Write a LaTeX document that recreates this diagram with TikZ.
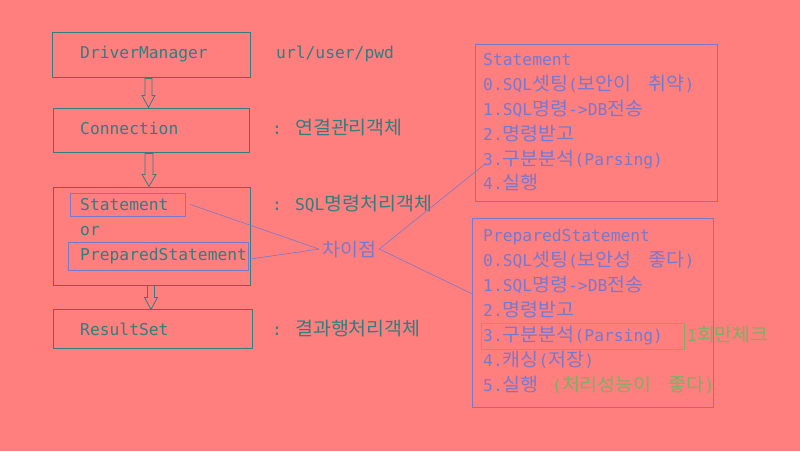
\documentclass[tikz,border=0pt]{standalone}
\usepackage{fontspec}
\setmainfont{DejaVu Sans Mono}
\newfontfamily\kr[Scale=1.14,FakeStretch=1.05]{Noto Sans CJK KR}
\newcommand\krsp{\hspace{17pt}}
\usetikzlibrary{calc}
\definecolor{bgc}{RGB}{255,127,127}
\definecolor{tealc}{RGB}{50,125,125}
\definecolor{bluec}{RGB}{120,120,205}
\definecolor{greenc}{RGB}{125,175,100}
\begin{document}
\begin{tikzpicture}[x=1pt,y=-1pt,
  txt/.style={anchor=base west,inner sep=0pt,font=\fontsize{16.3}{20}\selectfont},
  tt/.style={txt,text=tealc},
  bt/.style={txt,text=bluec},
  gt/.style={txt,text=greenc},
  tbox/.style={draw=tealc,line width=0.8pt,inner sep=0pt},
  bbox/.style={draw=bluec,line width=0.8pt,inner sep=0pt},
  gbox/.style={draw=greenc,line width=0.8pt,inner sep=0pt},
  link/.style={draw=bluec,line width=0.6pt},
  hollow/.style={draw=tealc,line width=0.8pt}]
\fill[bgc] (0,0) rectangle (800,451);
\useasboundingbox (0,0) rectangle (800,451);
% left boxes
\node[tbox,minimum width=198pt,minimum height=45pt] (dm) at (151,54.5) {};
\node[tbox,minimum width=196pt,minimum height=44pt] (cn) at (151,130) {};
\node[tbox,minimum width=197pt,minimum height=98pt] (stg) at (151.5,236) {};
\node[tbox,minimum width=199pt,minimum height=39pt] (rs) at (152.5,328.5) {};
\node[bbox,minimum width=115pt,minimum height=23pt] (stin) at (127.5,204.5) {};
\node[bbox,minimum width=180pt,minimum height=28pt] (psin) at (158,256) {};
% left texts
\node[tt] (tdm) at (80,58) {DriverManager};
\node[tt] (turl) at (276,58) {url/user/pwd};
\node[tt] (tcn) at (80,134.5) {Connection};
\node[tt] (tcnk) at (272,134) {: {\kr 연결관리객체}};
\node[tt] (tst) at (80,210) {Statement};
\node[tt] (tor) at (80,235) {or};
\node[tt] (tps) at (80,260) {PreparedStatement};
\node[tt] (tstk) at (272,210) {: SQL{\kr 명령처리객체}};
\node[tt] (trs) at (80,335) {ResultSet};
\node[tt] (trsk) at (272,335) {: {\kr 결과행처리객체}};
% hollow arrows
\draw[hollow] ($(dm.south)+(-6,1)$) -- ++(0,17) -- ++(-3,0) -- ++(6.5,12) -- ++(6.5,-12) -- ++(-3,0) -- ++(0,-17) -- cycle;
\draw[hollow] ($(cn.south)+(-6,1)$) -- ++(0,21) -- ++(-3,0) -- ++(7,12) -- ++(7,-12) -- ++(-3,0) -- ++(0,-21) -- cycle;
\draw[hollow] ($(stg.south)+(-4,0)$) -- ++(0,12) -- ++(-3,0) -- ++(6.5,12) -- ++(6.5,-12) -- ++(-3,0) -- ++(0,-12) -- cycle;
% difference
\node[anchor=base west,inner sep=3pt,text=bluec,font=\fontsize{16.3}{20}\selectfont] (diff) at (319,256) {\kr 차이점};
% right statement box
\node[bbox,minimum width=242pt,minimum height=157pt] (sbox) at (596,122.5) {};
\node[bt] (s0) at (483,65) {Statement};
\node[bt] (s1) at (483,90) {0.SQL{\kr 셋팅}({\kr 보안이}\krsp{\kr 취약})};
\node[bt] (s2) at (483,115) {1.SQL{\kr 명령}->DB{\kr 전송}};
\node[bt] (s3) at (483,140) {2.{\kr 명령받고}};
\node[bt] (s4) at (483,165) {3.{\kr 구분분석}(Parsing)};
\node[bt] (s5) at (483,189) {4.{\kr 실행}};
% right prepared box
\node[bbox,minimum width=241pt,minimum height=189pt] (pbox) at (592.5,312.5) {};
\node[bt] (p0) at (483,241.5) {PreparedStatement};
\node[bt] (p1) at (483,266.5) {0.SQL{\kr 셋팅}({\kr 보안성}\krsp{\kr 좋다})};
\node[bt] (p2) at (483,291.5) {1.SQL{\kr 명령}->DB{\kr 전송}};
\node[bt] (p3) at (483,316.5) {2.{\kr 명령받고}};
\node[bt] (p4) at (483,341.5) {3.{\kr 구분분석}(Parsing)};
\node[bt] (p5) at (483,366.5) {4.{\kr 캐싱}({\kr 저장})};
\node[bt] (p6) at (483,391.5) {5.{\kr 실행}};
\node[gt] (p6g) at (552,391.5) {({\kr 처리성능이}\krsp{\kr 좋다})};
\node[gbox,minimum width=203pt,minimum height=26pt] (pbx) at (582.5,336) {};
\node[gt] (once) at (687,341.5) {1{\kr 회만체크}};
% connectors
\draw[link] ($(stin.east)+(5,0)$) -- (diff.west);
\draw[link] ($(psin.east)+(2,3)$) -- (diff.west);
\draw[link] (diff.east) -- ($(s4.base west)+(2,-1)$);
\draw[link] (diff.east) -- ($(pbox.north west)+(0,76)$);
\end{tikzpicture}
\end{document}
